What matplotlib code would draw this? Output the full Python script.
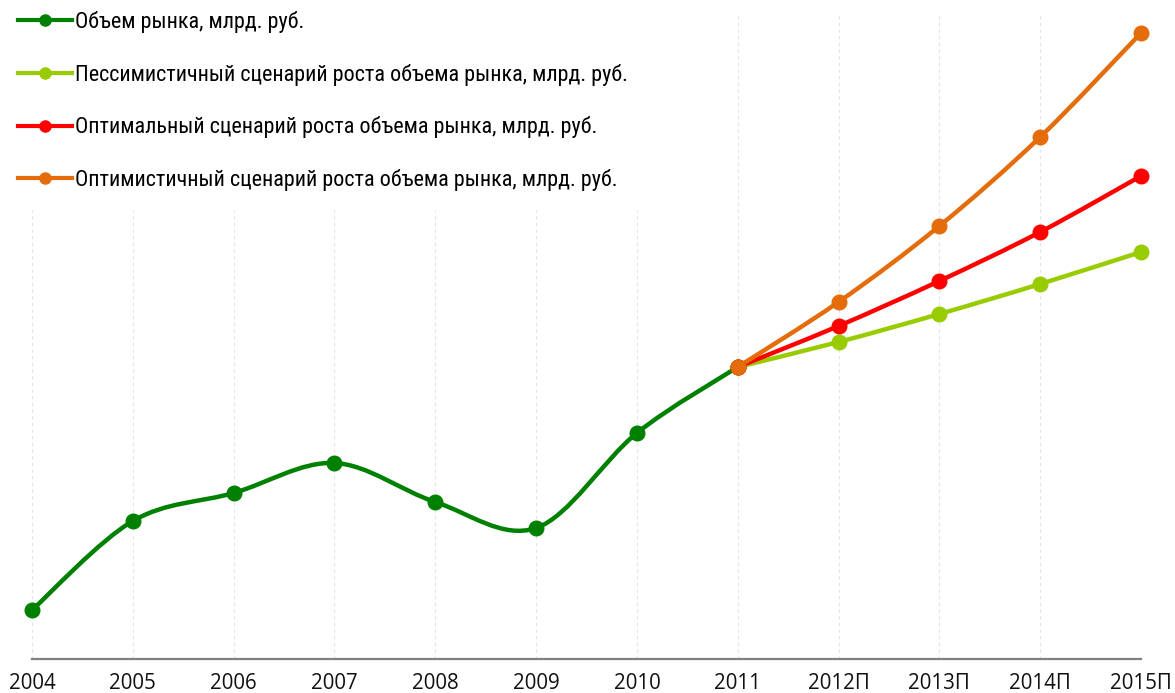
import matplotlib
matplotlib.use("Agg")
import matplotlib.pyplot as plt
import numpy as np
from matplotlib import font_manager
from matplotlib.lines import Line2D
from matplotlib.path import Path
from matplotlib.patches import PathPatch

# values (relative units, no y axis shown)
years = ["2004", "2005", "2006", "2007", "2008", "2009", "2010", "2011",
         "2012П", "2013П", "2014П", "2015П"]
market = [49, 138, 166, 196, 157, 131, 226, 292]
pessimistic = [292, 317, 345, 375, 407]
optimal = [292, 333, 378, 427, 483]
optimistic = [292, 357, 433, 522, 626]

labels = [
    "Объем рынка, млрд. руб.",
    "Пессимистичный сценарий роста объема рынка, млрд. руб.",
    "Оптимальный сценарий роста объема рынка, млрд. руб.",
    "Оптимистичный сценарий роста объема рынка, млрд. руб.",
]
colors = ["#008000", "#99cc00", "#ff0000", "#e46c0a"]

installed = {f.name for f in font_manager.fontManager.ttflist}


def first_font(names):
    for n in names:
        if n in installed:
            return n
    return "DejaVu Sans"


legend_font = first_font(["Liberation Sans Narrow", "Arial Narrow", "Roboto Condensed", "Roboto"])
tick_font = first_font(["Open Sans", "Liberation Sans", "DejaVu Sans"])


def smooth_path(xs, ys):
    """Catmull-Rom curve through the points, as cubic bezier segments."""
    p = np.column_stack([xs, ys]).astype(float)
    ext = np.vstack([p[0], p, p[-1]])
    verts = [tuple(p[0])]
    codes = [Path.MOVETO]
    for i in range(len(p) - 1):
        p0, p1, p2, p3 = ext[i], ext[i + 1], ext[i + 2], ext[i + 3]
        c1 = p1 + (p2 - p0) / 6.0
        c2 = p2 - (p3 - p1) / 6.0
        verts += [tuple(c1), tuple(c2), tuple(p2)]
        codes += [Path.CURVE4] * 3
    return Path(verts, codes)


W, H = 1175, 693
fig = plt.figure(figsize=(W / 100, H / 100), dpi=100)
renderer = fig.canvas.get_renderer()


def text_size(text, family, size):
    t = fig.text(0, 0, text, family=family, fontsize=size)
    bb = t.get_window_extent(renderer)
    t.remove()
    return bb.width, bb.height


def fit_size(text, family, target_px, size=15):
    return size * target_px / text_size(text, family, size)[0]


legend_size = fit_size(labels[1], legend_font, 555)
tick_size = fit_size("2004", tick_font, 47)

ax = fig.add_axes([32 / W, 34 / H, 1109 / W, 645 / H])

x_all = np.arange(len(years))
series = [
    (x_all[:len(market)], market),
    (x_all[7:], pessimistic),
    (x_all[7:], optimal),
    (x_all[7:], optimistic),
]

for (xs, ys), col in zip(series, colors):
    ax.add_patch(PathPatch(smooth_path(xs, ys), fill=False, edgecolor=col,
                           lw=3.2, capstyle="round", joinstyle="round", clip_on=False))
    ax.plot(xs, ys, "o", color=col, ms=10.5, clip_on=False, zorder=3)

ax.set_xlim(0, len(years) - 1)
ax.set_ylim(0, 645)
ax.set_xticks(x_all)
ax.set_xticklabels(years, family=tick_font, fontsize=tick_size, color="#111111")
ax.tick_params(axis="x", length=0, pad=10)
ax.set_yticks([])
ax.grid(axis="x", color="#e3e3e3", lw=0.8, linestyle=(0, (3, 3)))
ax.set_axisbelow(True)
for side in ["left", "right", "top"]:
    ax.spines[side].set_visible(False)
ax.spines["bottom"].set_color("#808080")
ax.spines["bottom"].set_linewidth(1.6)

# legend placement in pixels: first row centred at y=22, rows 52.7 px apart
fs_px = legend_size * 100 / 72
row_h = text_size(labels[0], legend_font, legend_size)[1]
pad = 0.8
left_px = 18 - pad * fs_px
top_px = 22 - row_h / 2 - pad * fs_px
handles = [Line2D([], [], color=c, lw=3, marker="o", ms=8) for c in colors]
leg = fig.legend(handles, labels, loc="upper left",
                 bbox_to_anchor=(left_px / W, 1 - top_px / H),
                 bbox_transform=fig.transFigure, numpoints=1,
                 prop={"family": legend_font, "size": legend_size},
                 handlelength=54 / fs_px, handletextpad=3 / fs_px,
                 labelspacing=(52.7 - row_h) / fs_px,
                 borderpad=pad, borderaxespad=0, frameon=True,
                 fancybox=False, facecolor="white", edgecolor="white", framealpha=1)
leg.set_zorder(5)

fig.savefig("out.png", dpi=100)
